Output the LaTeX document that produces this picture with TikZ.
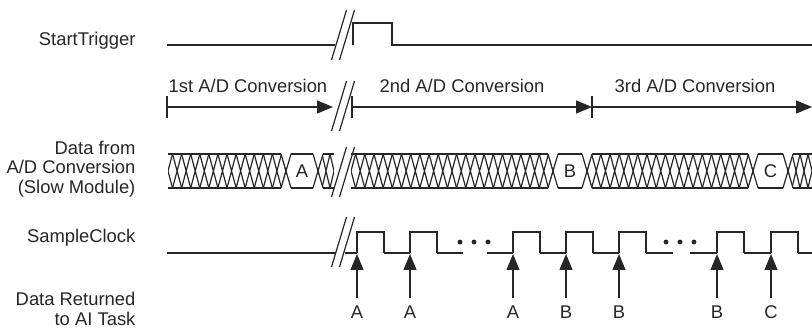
\documentclass[tikz,border=0pt]{standalone}
\usepackage{fontspec}
\setmainfont{Liberation Sans}
\usetikzlibrary{arrows.meta}
% two slanted strokes marking a cut in the time axis
\newcommand{\gapmark}[2]{%
  \draw (#1-11.5,#2+25) -- (#1+3.5,#2-25) (#1-3.5,#2+25) -- (#1+11.5,#2-25);}

\begin{document}
\begin{tikzpicture}[x=0.5pt, y=-0.5pt, line width=0.6pt, black!85,
    font=\fontsize{9.2}{9.8}\selectfont,
    tip/.style={-{Triangle[length=8pt,width=6.5pt]}},
    signame/.style={anchor=east, align=right, inner sep=0pt},
    retlabel/.style={inner sep=3.5pt},
    boxlabel/.style={inner sep=0pt}]
  \useasboundingbox (0,0) rectangle (812,335);

  % signal names
  \node[signame] (lbltrig) at (136,41) {StartTrigger};
  \node[signame] (lbldata) at (136,169) {Data from\\A/D Conversion\\(Slow Module)};
  \node[signame] (lblclk) at (136,238) {SampleClock};
  \node[signame] (lblret) at (136,309) {Data Returned\\to AI Task};

  % start trigger
  \draw (167,45) -- (335,45);
  \gapmark{343}{35}
  \draw (353,45) -- (353,23) -- (392,23) -- (392,45) -- (812,45);

  % conversion intervals
  \coordinate (conv0) at (167,107);
  \coordinate (conv1) at (333,107);
  \coordinate (conv2) at (352,107);
  \coordinate (conv3) at (592,107);
  \coordinate (conv4) at (812,107);
  \foreach \c in {conv0,conv2,conv3}
    \draw ([yshift=5.5pt]\c) -- ([yshift=-5.5pt]\c);
  \draw[tip] (conv0) -- (conv1);
  \draw[tip] (conv2) -- (conv3);
  \draw[tip] (conv3) -- (conv4);
  \gapmark{343}{106}
  \node (first) at (248,86) {1st A/D Conversion};
  \node (second) at (462,86) {2nd A/D Conversion};
  \node (third) at (695,86) {3rd A/D Conversion};

  % data bus, hatched while converting
  \foreach \a/\b/\l/\r in {168/286/0/5, 318/334/5/0, 351/553/0/5, 587/753/5/5, 788/812/5/0} {
    \pgfmathtruncatemacro\n{round((\b-\a)/9)}
    \pgfmathsetmacro\s{(\b-\a)/\n}
    \begin{scope}
      \clip (\a,171) -- (\a+\l,154) -- (\b-\r,154) -- (\b,171) -- (\b-\r,188) -- (\a+\l,188) -- cycle;
      \foreach \k in {0,...,\n}
        \draw (\a+\s*\k-\s/2,154) -- (\a+\s*\k+\s/2,188)
              (\a+\s*\k-\s/2,188) -- (\a+\s*\k+\s/2,154);
    \end{scope}
  }
  \foreach \a/\b in {168/281, 291/313, 323/334, 351/548, 558/582, 592/748, 758/783, 793/812}
    \draw (\a,154) -- (\b,154) (\a,188) -- (\b,188);
  \foreach \j in {286,318,553,587,753,788}
    \draw (\j-5,154) -- (\j,171) -- (\j-5,188) (\j+5,154) -- (\j,171) -- (\j+5,188);
  \gapmark{343}{172}
  \node[boxlabel] (boxA) at (302,171) {A};
  \node[boxlabel] (boxB) at (570,171) {B};
  \node[boxlabel] (boxC) at (770.5,171) {C};

  % sample clock
  \draw (167,253) -- (336,253);
  \gapmark{343}{242}
  \foreach \a/\b in {345/357, 384/410, 437/463, 487/513, 540/566, 593/619, 646/673, 690/717, 744/771, 798/812}
    \draw (\a,253) -- (\b,253);
  \foreach \x in {357,410,513,566,619,717,771}
    \draw (\x,253) -- (\x,232) -- (\x+27,232) -- (\x+27,253);
  \foreach \x in {460,474,488,666,680,694}
    \fill (\x,242) circle (1.2pt);

  % samples handed to the task
  \foreach \x/\l [count=\i] in {357/A,410/A,513/A,566/B,619/B,717/B,771/C} {
    \coordinate (rise\i) at (\x,254);
    \node[retlabel] (ret\i) at (\x,312) {\l};
    \draw[tip] (ret\i) -- (rise\i);
  }
\end{tikzpicture}
\end{document}
